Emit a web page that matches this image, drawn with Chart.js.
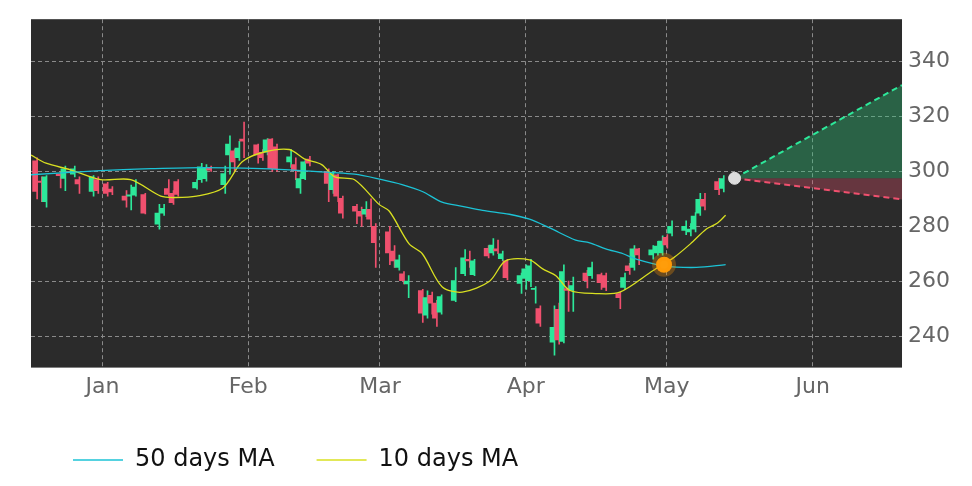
<!DOCTYPE html>
<html>
<head>
<meta charset="utf-8">
<script src="https://cdn.jsdelivr.net/npm/chart.js@4"></script>
<style>
  html, body { margin: 0; padding: 0; background: #fff; }
  #wrap { width: 972px; height: 486px; }
</style>
</head>
<body>
<div id="wrap"><canvas id="c" width="972" height="486"></canvas></div>
<script>
// x values are days counted from Jan 1
const monthTicks = [0, 31, 59, 90, 120, 151];
const monthLabels = ["Jan", "Feb", "Mar", "Apr", "May", "Jun"];
const priceTicks = [240, 260, 280, 300, 320, 340];

// candles: day, open, high, low, close
const candleDays = [-14,-13,-12,-9,-8,-6,-5,-2,-1,1,2,5,6,7,9,12,13,14,15,16,20,21,22,23,26,27,28,29,30,33,34,35,36,37,40,41,42,43,44,48,49,50,51,54,55,56,57,58,61,62,63,64,65,68,69,70,71,72,75,77,78,79,82,83,84,85,86,89,90,91,92,93,96,97,98,99,100,103,104,106,107,110,111,112,113,114,117,118,119,120,121,124,125,126,127,128,131,132];
const opens  = [303.9,296.5,289,299,297.5,299,297,292.7,297,295.5,293.6,291,291,291.4,291.6,280.8,284.8,293.8,292,296.3,294,297,297.4,301.5,295.2,306,307.5,305,311.8,309.7,307,307,311.8,309,303.5,302.5,294,297.4,304.5,300,293.4,298.8,290.2,287.3,285.5,284.4,286.2,280,278,271,265,262.7,259,256.6,247.6,254.8,252,248.7,253,262.7,268,262.4,272,270.3,271.8,268.2,267.4,259.2,261,260.2,257,250,237.8,249.7,238,257.3,256.6,263,262,262.4,262,255.5,257.7,265.6,265,271.8,269.6,270.3,270.3,276,277.5,278.5,278,279,284.8,289.8,296.3,293.8];
const highs  = [305,298,298.5,300,302,302,298,298.5,298,296,294.5,293,295,297,292,288,288,297,293,297,297,303,302.5,302,302,313,308,311,318,310,308,312,312,310,308,305,299,304,305.5,301,300,299,291,288,287,289,290,281,280,273,269.5,263.5,262,257,256.5,256,253,255,265,271.5,271,268,273,275.5,275,271,268,263,266,268,258,251,251,252,266,260,261.5,264,267,263,263,256,263,266.5,273,272,273,274.5,276.5,277,282,282,281,285,292,292,297.5,298.5];
const lows   = [290,289,287,294,293,298,292,291,292,291,291.5,287,286,291,284.5,279,284,291,288,291,293.5,296,296.5,300,292,299,300,304,305,303,304,306,300,300,301.5,297,292,297,302,289,292,289,283,281,280,283.5,280,265,266,265,264,259,254,245,246.5,248,243.5,248,252.5,262,265,262,268.5,269.5,270,267.5,260.5,255.5,257,258,252,243.5,233,237,237.5,249,249,257.5,261,257,256.5,250,257,262.5,264,266,268,269.5,269.5,272,276.5,277,276.5,278,284,286,291.5,292.5];
const closes = [292.7,296,298,298.5,301,301,295.5,298,293,292,292.5,289.5,291.5,294.3,284.8,284.8,286.6,291.6,288.6,291.6,296,301.7,301.5,300.5,299.2,310,303.5,308.5,311,306,305,311.5,301,301,305.3,300.3,297.4,303.5,303,295.6,299.2,291,284.8,285.5,283.7,286.2,282.6,274,270.3,267.4,267.8,260.2,260,248.3,254,252,246.5,254.4,260.2,268.5,267.4,267.4,269.2,273.2,271,270,261.3,262,264.5,265.6,257.3,244.7,243.2,238.6,263.5,256.6,258.4,260.2,265,259.5,257.7,254,261.3,263.8,271.8,269.6,271.4,272.8,274.6,273.2,280,280,279,283.7,289.8,287.3,293.4,297.4];

// moving averages
const ma10Days = [-15.2,-12,-6.8,-0.4,6,12.4,15.6,20,25.6,29.7,34.2,39.7,43,46.6,49.4,53.6,58.8,61,65.2,68,72.2,76.5,82.3,85.7,90.8,93.6,96.4,99.4,104.9,110,117,121.4,125,128.4,130.6,132.5];
const ma10 = [306,303,300.6,297,297,291,290.5,291,294,303.5,307,308,304.5,302.5,298,297,288,285.5,273.6,270,258,256,260,267.4,267.8,264.5,262,256.6,255.5,256,263.8,268.5,273.6,279,281,284];
const ma50Days = [-15.2,-0.4,10.3,20.9,33.8,42.3,53.6,59.4,63.7,68,72.2,76.5,80.8,86.5,90.8,95.1,100.6,103.6,107,110.7,113.5,119.2,126.3,132.5];
const ma50 = [298.8,300.3,301,301.4,301,300.3,299,297,295.2,292.7,288.8,287.3,285.8,284.4,282.6,279.4,275,274,271.8,270,268,265.6,265,266];

// forecast cone
const lastDay = 134.4, lastPrice = 297.5;
const coneEndDay = 170;
const coneHigh = 331.5, coneLow = 289.8;
const crossDay = 119.4, crossPrice = 266;

const UP = '#2de89a', DOWN = '#f0506e';
const candleColors = opens.map((o, i) => closes[i] >= o ? UP : DOWN);

const bgPlugin = {
  id: 'bg',
  beforeDraw(chart) {
    const a = chart.chartArea, ctx = chart.ctx;
    ctx.save();
    ctx.fillStyle = '#2b2b2b';
    ctx.fillRect(a.left, a.top, a.right - a.left, a.bottom - a.top);
    ctx.restore();
  }
};

new Chart(document.getElementById('c'), {
  data: {
    datasets: [
      { type: 'line', label: '50 days MA', data: ma50Days.map((d, i) => ({x: d, y: ma50[i]})),
        borderColor: '#1cc3d6', borderWidth: 1.3, pointRadius: 0, tension: 0.3, order: 1 },
      { type: 'line', label: '10 days MA', data: ma10Days.map((d, i) => ({x: d, y: ma10[i]})),
        borderColor: '#d9e021', borderWidth: 1.3, pointRadius: 0, tension: 0.3, order: 1 },
      { type: 'bar', label: 'wick', data: candleDays.map((d, i) => ({x: d, y: [lows[i], highs[i]]})),
        backgroundColor: candleColors, barThickness: 1, order: 3 },
      { type: 'bar', label: 'body', data: candleDays.map((d, i) => ({x: d, y: [opens[i], closes[i]]})),
        backgroundColor: candleColors, barThickness: 4, minBarLength: 1, order: 2 },
      { type: 'line', label: 'up', data: [{x: lastDay, y: lastPrice}, {x: coneEndDay, y: coneHigh}],
        borderColor: '#2de89a', borderDash: [6, 4], borderWidth: 2, pointRadius: 0,
        fill: {value: lastPrice}, backgroundColor: 'rgba(40,200,120,0.35)', order: 1 },
      { type: 'line', label: 'down', data: [{x: lastDay, y: lastPrice}, {x: coneEndDay, y: coneLow}],
        borderColor: '#f0506e', borderDash: [6, 4], borderWidth: 2, pointRadius: 0,
        fill: {value: lastPrice}, backgroundColor: 'rgba(240,80,110,0.3)', order: 1 },
      { type: 'scatter', label: 'cross', data: [{x: crossDay, y: crossPrice}],
        pointRadius: 8, pointBackgroundColor: '#ff9d0a', pointBorderColor: 'rgba(255,150,0,0.3)',
        pointBorderWidth: 8, order: 0 },
      { type: 'scatter', label: 'last', data: [{x: lastDay, y: lastPrice}],
        pointRadius: 6, pointBackgroundColor: '#dddddd', pointBorderColor: '#dddddd', order: 0 }
    ]
  },
  options: {
    responsive: false,
    animation: false,
    layout: { padding: { left: 31, right: 16, top: 16, bottom: 4 } },
    plugins: {
      tooltip: { enabled: false },
      legend: {
        position: 'bottom',
        align: 'start',
        labels: {
          filter: item => item.text.indexOf('MA') >= 0,
          usePointStyle: true, pointStyle: 'line', pointStyleWidth: 50,
          font: { family: 'DejaVu Sans', size: 24 }, color: '#111', padding: 42
        }
      }
    },
    scales: {
      x: {
        type: 'linear', min: -15.2, max: coneEndDay, offset: false,
        afterBuildTicks: s => { s.ticks = monthTicks.map(v => ({value: v})); },
        ticks: { callback: v => monthLabels[monthTicks.indexOf(v)], color: '#666',
                 font: { family: 'DejaVu Sans', size: 22 }, padding: 6, maxRotation: 0 },
        grid: { color: '#8a8a8a', offset: false, drawTicks: false },
        border: { display: false, dash: [4, 3] }
      },
      y: {
        position: 'right', min: 228.5, max: 355.5,
        afterBuildTicks: s => { s.ticks = priceTicks.map(v => ({value: v})); },
        ticks: { color: '#666', font: { family: 'DejaVu Sans', size: 22 }, padding: 6 },
        grid: { color: '#8a8a8a', drawTicks: false },
        border: { display: false, dash: [4, 3] }
      }
    }
  },
  plugins: [bgPlugin]
});
</script>
</body>
</html>
